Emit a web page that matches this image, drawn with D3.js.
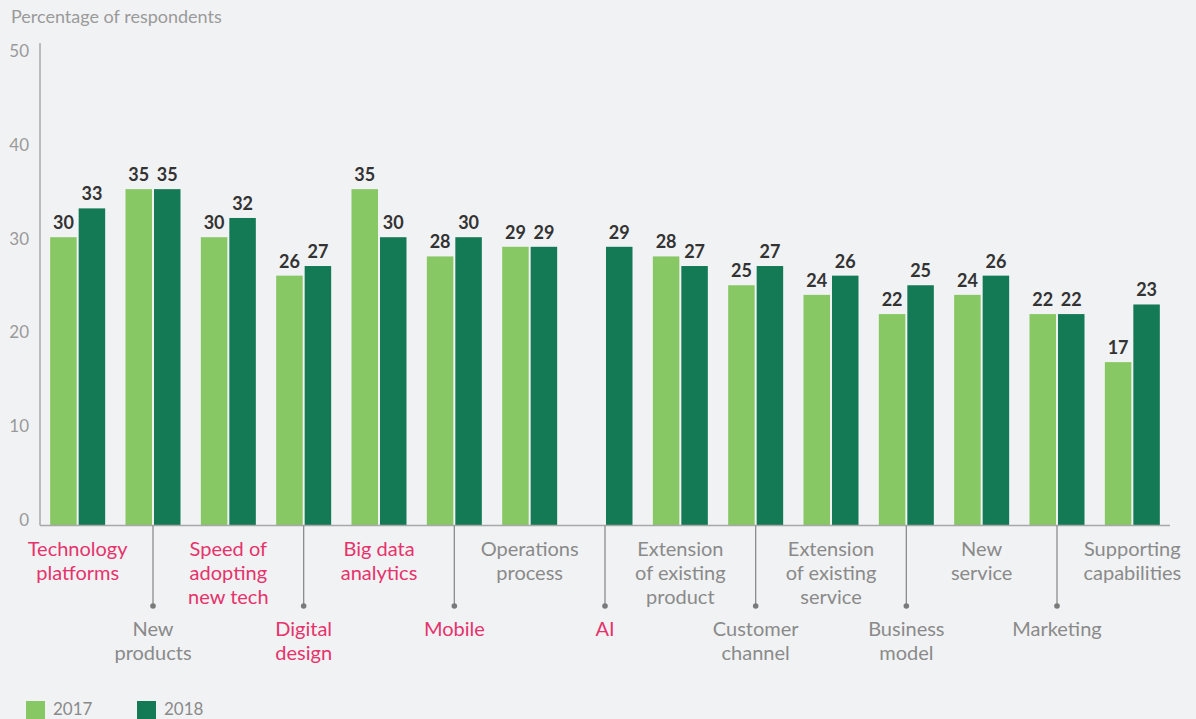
<!DOCTYPE html>
<html>
<head>
<meta charset="utf-8">
<script src="https://cdn.jsdelivr.net/npm/d3@7"></script>
<style>
  html, body { margin: 0; padding: 0; background: #f1f2f4; }
  svg { display: block; }
  text { font-family: Lato, "Open Sans", sans-serif; }
</style>
</head>
<body>
<svg id="chart" width="1196" height="719"></svg>
<script>
const categories = [
  "Technology platforms", "New products", "Speed of adopting new tech", "Digital design",
  "Big data analytics", "Mobile", "Operations process", "AI",
  "Extension of existing product", "Customer channel", "Extension of existing service",
  "Business model", "New service", "Marketing", "Supporting capabilities"
];
const labelLines = [
  ["Technology", "platforms"], ["New", "products"], ["Speed of", "adopting", "new tech"], ["Digital", "design"],
  ["Big data", "analytics"], ["Mobile"], ["Operations", "process"], ["AI"],
  ["Extension", "of existing", "product"], ["Customer", "channel"], ["Extension", "of existing", "service"],
  ["Business", "model"], ["New", "service"], ["Marketing"], ["Supporting", "capabilities"]
];
const highlighted = [true, false, true, true, true, true, false, true, false, false, false, false, false, false, false];
const series = ["2017", "2018"];
const values2017 = [30, 35, 30, 26, 35, 28, 29, null, 28, 25, 24, 22, 24, 22, 17];
const values2018 = [33, 35, 32, 27, 30, 30, 29, 29, 27, 27, 26, 25, 26, 22, 23];
const yTicks = [0, 10, 20, 30, 40, 50];
const yTitle = "Percentage of respondents";

const colors = { "2017": "#87c764", "2018": "#147a55" };
const pink = "#e5336b";
const grey = "#8a8a8a";

const svg = d3.select("#chart");

const x = d3.scaleBand().domain(categories).range([40, 1170]).paddingInner(0.27).paddingOuter(0.135);
const xs = d3.scaleBand().domain(series).range([0, x.bandwidth()]).paddingInner(0.07);
const y = d3.scaleLinear().domain([0, 50]).range([525.5, 45]);
const yLab = d3.scaleLinear().domain([0, 50]).range([520, 51]);

// title
svg.append("text").attr("x", 11).attr("y", 23).attr("fill", "#9a9a9a")
  .attr("font-size", 18).text(yTitle);

// y tick labels
svg.append("g").selectAll("text").data(yTicks).join("text")
  .attr("x", 29).attr("y", d => yLab(d)).attr("dy", "0.35em")
  .attr("text-anchor", "end").attr("fill", "#9a9a9a").attr("font-size", 17)
  .text(d => d);

// bars
const data = categories.map((c, i) => ({ cat: c, vals: [
  { s: "2017", v: values2017[i] }, { s: "2018", v: values2018[i] }
].filter(d => d.v !== null) }));

const g = svg.append("g");
const groups = g.selectAll("g.cat").data(data).join("g")
  .attr("transform", d => `translate(${x(d.cat)},0)`);

groups.selectAll("rect").data(d => d.vals).join("rect")
  .attr("x", d => xs(d.s)).attr("width", xs.bandwidth())
  .attr("y", d => y(d.v)).attr("height", d => y(0) - y(d.v))
  .attr("fill", d => colors[d.s]);

groups.selectAll("text").data(d => d.vals).join("text")
  .attr("x", d => xs(d.s) + xs.bandwidth() / 2)
  .attr("y", d => y(d.v) - 8)
  .attr("text-anchor", "middle").attr("font-weight", "bold")
  .attr("font-size", 18).attr("fill", "#333")
  .text(d => d.v);

// axes lines
svg.append("line").attr("x1", 40).attr("x2", 40).attr("y1", 43).attr("y2", y(0))
  .attr("stroke", "#a8a8a8").attr("stroke-width", 1.5);
svg.append("line").attr("x1", 40).attr("x2", 1170).attr("y1", y(0)).attr("y2", y(0))
  .attr("stroke", "#a8a8a8").attr("stroke-width", 1.5);

// category labels
categories.forEach((c, i) => {
  const cx = x(c) + x.bandwidth() / 2;
  const low = i % 2 === 1;
  const top = low ? 629 : 549;
  if (low) {
    svg.append("line").attr("x1", cx).attr("x2", cx).attr("y1", y(0)).attr("y2", 606)
      .attr("stroke", "#8c8c8c").attr("stroke-width", 1.3);
    svg.append("circle").attr("cx", cx).attr("cy", 606).attr("r", 2.8).attr("fill", "#7a7a7a");
  }
  const t = svg.append("text").attr("text-anchor", "middle")
    .attr("font-size", 20).attr("fill", highlighted[i] ? pink : grey);
  labelLines[i].forEach((line, j) => {
    t.append("tspan").attr("x", cx).attr("y", top + j * 24).attr("dy", "0.35em").text(line);
  });
});

// legend
const leg = svg.append("g").selectAll("g").data(series).join("g")
  .attr("transform", (d, i) => `translate(${26 + i * 111},701)`);
leg.append("rect").attr("width", 19).attr("height", 19).attr("fill", d => colors[d]);
leg.append("text").attr("x", 27).attr("y", 8).attr("dy", "0.35em")
  .attr("font-size", 17).attr("fill", "#8a8a8a").text(d => d);
</script>
</body>
</html>
